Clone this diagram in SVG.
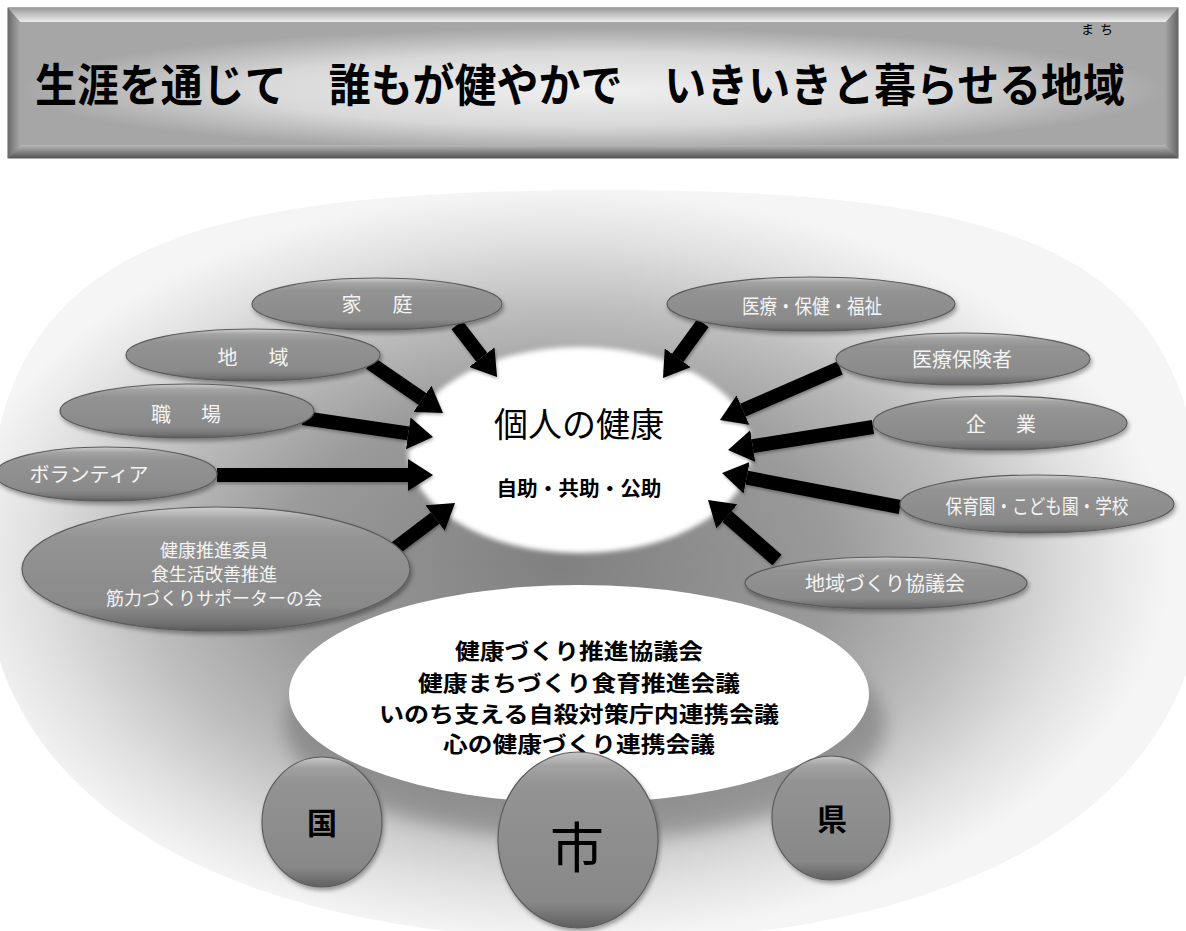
<svg xmlns="http://www.w3.org/2000/svg" width="1186" height="931" viewBox="0 0 1186 931">
<defs>
<style>
.lbl{font-family:"Noto Sans CJK JP","Noto Sans",sans-serif;fill:#f4f4f4;font-size:20px;text-anchor:middle}
.lbls{font-family:"Noto Sans CJK JP","Noto Sans",sans-serif;fill:#f4f4f4;font-size:18px;text-anchor:middle}
.blk{font-family:"Noto Sans CJK JP","Noto Sans",sans-serif;fill:#000;text-anchor:middle}
.sat{fill:url(#satG);stroke:#5c5c5c;stroke-width:1.2;filter:url(#sh)}
.cir{fill:url(#cirG);stroke:#5c5c5c;stroke-width:1.2;filter:url(#sh)}
.arr{stroke:#000;stroke-width:14;fill:none;marker-end:url(#ah)}
</style>
<linearGradient id="satG" x1="0" y1="0" x2="0" y2="1">
<stop offset="0" stop-color="#d0d0d0"/>
<stop offset="0.1" stop-color="#a4a4a4"/>
<stop offset="0.25" stop-color="#939393"/>
<stop offset="0.8" stop-color="#8a8a8a"/>
<stop offset="0.94" stop-color="#707070"/>
<stop offset="1" stop-color="#5a5a5a"/>
</linearGradient>
<linearGradient id="cirG" x1="0" y1="0" x2="0" y2="1">
<stop offset="0" stop-color="#c8c8c8"/>
<stop offset="0.08" stop-color="#a2a2a2"/>
<stop offset="0.2" stop-color="#939393"/>
<stop offset="0.85" stop-color="#888"/>
<stop offset="1" stop-color="#606060"/>
</linearGradient>
<radialGradient id="bgG" cx="0.47" cy="0.5" r="0.5">
<stop offset="0" stop-color="#808080"/>
<stop offset="0.45" stop-color="#9a9a9a"/>
<stop offset="0.68" stop-color="#bdbdbd"/>
<stop offset="0.86" stop-color="#e0e0e0"/>
<stop offset="1" stop-color="#f5f5f5"/>
</radialGradient>
<radialGradient id="faceG" cx="0.5" cy="0.55" r="0.5">
<stop offset="0" stop-color="#f0f0f0"/>
<stop offset="0.6" stop-color="#d8d8d8"/>
<stop offset="1" stop-color="#a6a6a6"/>
</radialGradient>
<linearGradient id="topB" x1="0" y1="0" x2="0" y2="1">
<stop offset="0" stop-color="#9c9c9c"/>
<stop offset="1" stop-color="#ececec"/>
</linearGradient>
<linearGradient id="botB" x1="0" y1="0" x2="0" y2="1">
<stop offset="0" stop-color="#b8b8b8"/>
<stop offset="1" stop-color="#555"/>
</linearGradient>
<linearGradient id="lefB" x1="0" y1="0" x2="1" y2="0">
<stop offset="0" stop-color="#6a6a6a"/>
<stop offset="1" stop-color="#a8a8a8"/>
</linearGradient>
<linearGradient id="rigB" x1="0" y1="0" x2="1" y2="0">
<stop offset="0" stop-color="#a0a0a0"/>
<stop offset="1" stop-color="#666"/>
</linearGradient>
<filter id="sh" x="-10%" y="-20%" width="125%" height="150%">
<feDropShadow dx="1.5" dy="3" stdDeviation="2" flood-color="#000" flood-opacity="0.35"/>
</filter>
<filter id="ash" filterUnits="userSpaceOnUse" x="0" y="0" width="1186" height="931">
<feDropShadow dx="1" dy="2" stdDeviation="1.5" flood-color="#000" flood-opacity="0.3"/>
</filter>
<filter id="soft" x="-10%" y="-10%" width="120%" height="120%">
<feGaussianBlur stdDeviation="2.5"/>
</filter>
<filter id="blur8" x="-20%" y="-20%" width="140%" height="140%">
<feGaussianBlur stdDeviation="9"/>
</filter>
<marker id="ah" markerUnits="userSpaceOnUse" viewBox="0 -16 25 32" refX="0" refY="0" markerWidth="25" markerHeight="32" orient="auto">
<path d="M0,-16 L25,0 L0,16 z" fill="#000"/>
</marker>
</defs>

<g id="title-banner">
<rect x="8" y="8" width="1170" height="150" fill="#888" stroke="#5a5a5a" stroke-width="1"/>
<rect x="20" y="22" width="1146" height="123" fill="url(#faceG)"/>
<polygon points="8,8 1178,8 1166,22 20,22" fill="url(#topB)"/>
<polygon points="8,158 1178,158 1166,145 20,145" fill="url(#botB)"/>
<polygon points="8,8 20,22 20,145 8,158" fill="url(#lefB)"/>
<polygon points="1178,8 1166,22 1166,145 1178,158" fill="url(#rigB)"/>
<text class="blk" x="35" y="102" font-size="42" font-weight="bold" style="text-anchor:start" textLength="1090" lengthAdjust="spacingAndGlyphs" transform="translate(0,102) scale(1,1.08) translate(0,-102)">生涯を通じて　誰もが健やかで　いきいきと暮らせる地域</text>
<text class="blk" x="1100" y="34" font-size="13" letter-spacing="6">まち</text>
</g>

<g id="background">
<path d="M605,190 C1073,190 1205,272.5 1205,565 C1205,797.5 977,940 605,940 C221,940 -15,797.5 -15,565 C-15,272.5 121.4,190 605,190 Z" fill="url(#bgG)"/>
<ellipse cx="585" cy="725" rx="300" ry="115" fill="#555" opacity="0.4" filter="url(#blur8)"/>
</g>

<g id="node-individual">
<ellipse cx="580" cy="450" rx="172" ry="103" fill="#fff" filter="url(#soft)"/>
<text class="blk" x="579" y="437" font-size="34">個人の健康</text>
<text class="blk" x="579" y="496" font-size="20" font-weight="bold" textLength="165" lengthAdjust="spacingAndGlyphs">自助・共助・公助</text>
</g>

<g id="connectors" filter="url(#ash)">
<line class="arr" x1="457" y1="325" x2="481.8" y2="357.2"/>
<line class="arr" x1="370" y1="363" x2="422.4" y2="398.9"/>
<line class="arr" x1="303" y1="418" x2="408.3" y2="433.4"/>
<line class="arr" x1="217" y1="475" x2="408" y2="475"/>
<line class="arr" x1="393" y1="550" x2="435.1" y2="518.1"/>
<line class="arr" x1="703" y1="323" x2="677.7" y2="357.8"/>
<line class="arr" x1="840" y1="368" x2="742.9" y2="410.1"/>
<line class="arr" x1="873" y1="427" x2="752.7" y2="446.1"/>
<line class="arr" x1="900" y1="507" x2="746.6" y2="477.7"/>
<line class="arr" x1="777" y1="560" x2="726.9" y2="516.4"/>
</g>

<g id="node-katei">
<ellipse class="sat" cx="377" cy="304" rx="125" ry="26"/>
<text class="lbl" x="377" y="312" textLength="71" lengthAdjust="spacing">家　庭</text>
</g>
<g id="node-chiiki">
<ellipse class="sat" cx="253" cy="355" rx="127" ry="26"/>
<text class="lbl" x="253" y="365" textLength="71" lengthAdjust="spacing">地　域</text>
</g>
<g id="node-shokuba">
<ellipse class="sat" cx="187" cy="411" rx="127" ry="27"/>
<text class="lbl" x="186" y="422" textLength="70" lengthAdjust="spacing">職　場</text>
</g>
<g id="node-volunteer">
<ellipse class="sat" cx="106" cy="474" rx="111" ry="27"/>
<text class="lbl" x="89" y="482">ボランティア</text>
</g>
<g id="node-kenko-suishin">
<ellipse class="sat" cx="216" cy="569" rx="194" ry="62"/>
<text class="lbls" x="214" y="557">健康推進委員</text>
<text class="lbls" x="214" y="581">食生活改善推進</text>
<text class="lbls" x="214" y="605">筋力づくりサポーターの会</text>
</g>
<g id="node-iryo-hoken-fukushi">
<ellipse class="sat" cx="811" cy="304" rx="144" ry="27"/>
<text class="lbl" x="812" y="314" textLength="140" lengthAdjust="spacingAndGlyphs">医療・保健・福祉</text>
</g>
<g id="node-iryo-hokensha">
<ellipse class="sat" cx="963" cy="359" rx="127" ry="26"/>
<text class="lbl" x="962" y="367">医療保険者</text>
</g>
<g id="node-kigyo">
<ellipse class="sat" cx="1000" cy="423" rx="127" ry="27"/>
<text class="lbl" x="1001" y="432" textLength="70" lengthAdjust="spacing">企　業</text>
</g>
<g id="node-hoikuen">
<ellipse class="sat" cx="1037" cy="504" rx="137" ry="29"/>
<text class="lbl" x="1037" y="514" font-size="19" textLength="183" lengthAdjust="spacingAndGlyphs">保育園・こども園・学校</text>
</g>
<g id="node-chiikizukuri">
<ellipse class="sat" cx="886" cy="583" rx="141" ry="26"/>
<text class="lbl" x="885" y="591">地域づくり協議会</text>
</g>

<g id="node-councils">
<ellipse cx="579" cy="694" rx="290" ry="109" fill="#fff"/>
<text class="blk" x="579" y="659" font-size="22" font-weight="bold" textLength="248" lengthAdjust="spacingAndGlyphs">健康づくり推進協議会</text>
<text class="blk" x="579" y="691" font-size="22" font-weight="bold" textLength="322" lengthAdjust="spacingAndGlyphs">健康まちづくり食育推進会議</text>
<text class="blk" x="579" y="722" font-size="22" font-weight="bold" textLength="400" lengthAdjust="spacingAndGlyphs">いのち支える自殺対策庁内連携会議</text>
<text class="blk" x="579" y="752" font-size="22" font-weight="bold" textLength="272" lengthAdjust="spacingAndGlyphs">心の健康づくり連携会議</text>
</g>

<g id="node-kuni">
<ellipse class="cir" cx="322" cy="822" rx="60" ry="65"/>
<text class="blk" x="322" y="834" font-size="30" font-weight="bold">国</text>
</g>
<g id="node-shi">
<ellipse class="cir" cx="578" cy="840" rx="80" ry="88"/>
<text class="blk" x="577" y="868" font-size="54">市</text>
</g>
<g id="node-ken">
<ellipse class="cir" cx="831" cy="818" rx="59" ry="62"/>
<text class="blk" x="832" y="830" font-size="30" font-weight="bold">県</text>
</g>
</svg>
